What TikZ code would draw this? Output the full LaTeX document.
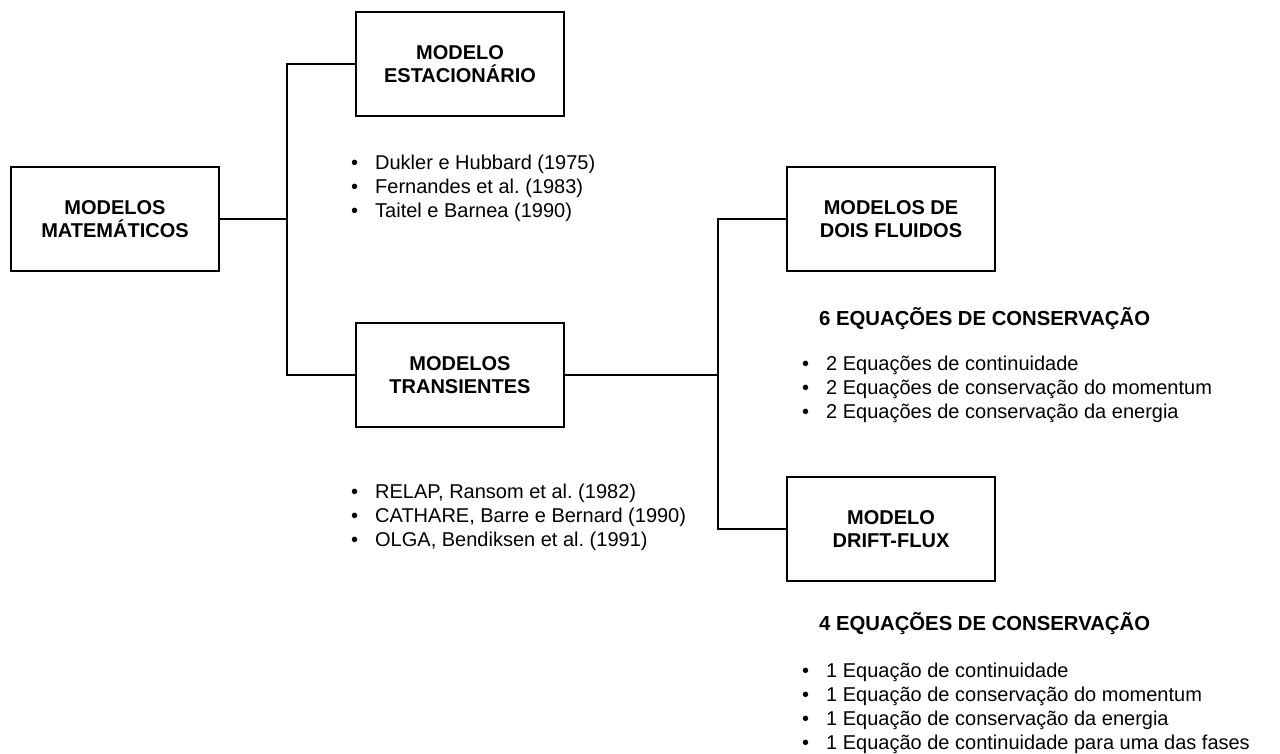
\documentclass[tikz,border=0pt]{standalone}
\usepackage{fontspec}
\setmainfont{Liberation Sans}
\usetikzlibrary{positioning}

\newcommand{\itm}[1]{\makebox[24pt][l]{\textbullet}#1}
\frenchspacing

\begin{document}
\begin{tikzpicture}[x=1pt,y=-1pt,
    caixa/.style={draw,line width=1.5pt,minimum width=208pt,minimum height=104pt,
        align=center,font=\bfseries\fontsize{20}{23}\selectfont},
    lista/.style={anchor=base west,inner sep=0pt,align=left,
        font=\fontsize{20}{24}\selectfont},
    titulo/.style={anchor=base west,inner sep=0pt,font=\bfseries\fontsize{20.3}{23}\selectfont},
    liga/.style={line width=1.2pt}]
    \useasboundingbox (0,0) rectangle (1280,753);

    % caixas
    \node at (115,219) [caixa] (mat) {MODELOS\\MATEMÁTICOS};
    \node at (460,64) [caixa] (est) {MODELO\\ESTACIONÁRIO};
    \node at (460,375) [caixa] (tra) {MODELOS\\TRANSIENTES};
    \node at (891,219) [caixa] (dois) {MODELOS DE\\DOIS FLUIDOS};
    \node at (891,529) [caixa] (drift) {MODELO\\DRIFT-FLUX};

    \coordinate (j1) at (287,219);
    \coordinate (j2) at (718,375);

    \draw[liga] (mat) -- (j1) (est.west) -| (j1) |- (tra.west);
    \draw[liga] (tra) -- (j2) (dois.west) -| (j2) |- (drift.west);

    % listas (ancoradas na ultima linha)
    \node at (351,217) [lista] (refest) {\itm{Dukler e Hubbard (1975)}\\
        \itm{Fernandes et al. (1983)}\\\itm{Taitel e Barnea (1990)}};
    \node at (351,546) [lista] (reftra) {\itm{RELAP, Ransom et al. (1982)}\\
        \itm{CATHARE, Barre e Bernard (1990)}\\\itm{OLGA, Bendiksen et al. (1991)}};

    \node at (819,325) [titulo] (t6) {6 EQUAÇÕES DE CONSERVAÇÃO};
    \node at (802,418) [lista] (eq6) {\itm{2 Equações de continuidade}\\
        \itm{2 Equações de conservação do momentum}\\
        \itm{2 Equações de conservação da energia}};

    \node at (819,630) [titulo] (t4) {4 EQUAÇÕES DE CONSERVAÇÃO};
    \node at (802,749) [lista] (eq4) {\itm{1 Equação de continuidade}\\
        \itm{1 Equação de conservação do momentum}\\
        \itm{1 Equação de conservação da energia}\\
        \itm{1 Equação de continuidade para uma das fases}};
\end{tikzpicture}
\end{document}
